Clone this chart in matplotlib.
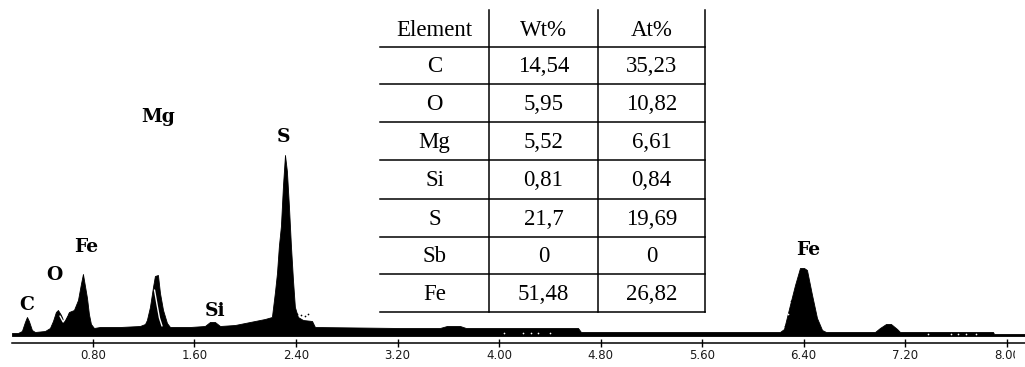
import numpy as np
import matplotlib
matplotlib.use("Agg")
import matplotlib.pyplot as plt
from matplotlib.transforms import Bbox

# EDS spectrum: energy (keV) and counts along the outline
energy_kev = [0.162, 0.209, 0.240, 0.264, 0.280, 0.295, 0.319, 0.343, 0.422, 0.461,
              0.485, 0.508, 0.524, 0.548, 0.571, 0.587, 0.611, 0.650, 0.682, 0.705,
              0.721, 0.737, 0.753, 0.768, 0.784, 0.808, 0.855, 1.013, 1.170, 1.210,
              1.225, 1.249, 1.273, 1.288, 1.312, 1.328, 1.352, 1.383, 1.407, 1.564,
              1.682, 1.722, 1.761, 1.801, 1.919, 2.037, 2.155, 2.210, 2.234, 2.250,
              2.265, 2.281, 2.297, 2.313, 2.328, 2.344, 2.360, 2.376, 2.391, 2.415,
              2.455, 2.526, 2.549, 3.219, 3.534, 3.589, 3.692, 3.739, 4.622, 4.645,
              6.213, 6.245, 6.292, 6.332, 6.371, 6.403, 6.426, 6.466, 6.505, 6.545,
              6.576, 6.962, 7.001, 7.049, 7.088, 7.136, 7.159, 7.892, 7.900, 8.144]
counts = [3, 3, 5, 14, 19, 15, 6, 4, 5, 8,
          15, 24, 26, 21, 14, 18, 24, 26, 36, 52,
          62, 50, 38, 22, 12, 8, 9, 9, 10, 12,
          16, 29, 49, 60, 61, 43, 26, 13, 9, 9,
          10, 14, 14, 10, 11, 14, 17, 19, 44, 63,
          90, 110, 150, 181, 165, 130, 90, 56, 29, 19,
          16, 15, 9, 8, 8, 10, 10, 8, 8, 4,
          4, 7, 31, 51, 68, 68, 66, 41, 18, 6,
          4, 4, 8, 12, 12, 7, 4, 4, 2, 2]

# Second acquisition, drawn as an outline over the first
ref_energy_kev = [0.540, 0.565, 0.595, 1.285, 1.304, 1.324, 1.344]
ref_counts = [20, 14, 21, 46, 32, 18, 10]
ref_segments = [3, 4]  # points per outline segment

# Scattered points of the second acquisition
dot_energy_kev = [2.409, 2.440, 2.470, 2.495, 4.040, 4.190, 4.250, 4.310, 4.400,
                  6.250, 6.275, 6.300, 7.380, 7.560, 7.620, 7.680, 7.760]
dot_counts = [22, 21, 20, 22, 3, 3, 3, 3, 3,
              10, 22, 35, 2, 2, 2, 2, 2]

# Peak identifications
peak_labels = ["C", "O", "Fe", "Mg", "Si", "S", "Fe"]
peak_label_kev = [0.280, 0.493, 0.745, 1.312, 1.761, 2.305, 6.434]
peak_label_counts = [26, 56, 84, 214, 20, 194, 81]

# Quantification table
table_header = ["Element", "Wt%", "At%"]
table_elements = ["C", "O", "Mg", "Si", "S", "Sb", "Fe"]
table_wt = ["14,54", "5,95", "5,52", "0,81", "21,7", "0", "51,48"]
table_at = ["35,23", "10,82", "6,61", "0,84", "19,69", "0", "26,82"]

tick_kev = [0.80, 1.60, 2.40, 3.20, 4.00, 4.80, 5.60, 6.40, 7.20, 8.00]

W, H = 1025, 367
fig = plt.figure(figsize=(W / 100, H / 100), dpi=100)
fig.patch.set_facecolor("white")

ax = fig.add_axes([12 / W, 24 / H, (W - 12) / W, 343 / H])
ax.set_xlim(0.162, 8.144)
ax.set_ylim(-7, 336)

e = np.array(energy_kev)
c = np.array(counts)
ax.fill_between(e, 0, c, color="black", linewidth=0.6, edgecolor="black")

start = 0
for n in ref_segments:
    ax.plot(ref_energy_kev[start:start + n], ref_counts[start:start + n],
            color="white", linewidth=1.0, solid_capstyle="round")
    start += n

de = np.array(dot_energy_kev)
dc = np.array(dot_counts)
inside = dc < np.interp(de, e, c)
ax.scatter(de[inside], dc[inside], s=1.5, color="white", linewidths=0, zorder=3)
ax.scatter(de[~inside], dc[~inside], s=1.5, color="black", linewidths=0, zorder=3)

for lab, x, y in zip(peak_labels, peak_label_kev, peak_label_counts):
    ax.text(x, y, lab, ha="center", va="baseline", fontsize=13.5,
            fontweight="bold", family="DejaVu Serif", color="black")

for side in ("top", "left", "right"):
    ax.spines[side].set_visible(False)
ax.spines["bottom"].set_linewidth(1.1)
ax.spines["bottom"].set_position(("data", -7))
ax.set_yticks([])
ax.set_xticks(tick_kev)
ax.set_xticklabels([f"{t:.2f}" for t in tick_kev], fontsize=8.5,
                   family="DejaVu Sans", color="#1a1a1a")
ax.tick_params(axis="x", direction="inout", length=6, width=1.0, pad=1.5)
ax.minorticks_off()
ax.patch.set_alpha(0)

# the scale's labels stop a little short of the right edge
label_clip = Bbox.from_extents(0, 0, 1015, H)
for lbl in ax.get_xticklabels():
    lbl.set_clip_box(label_clip)
    lbl.set_clip_on(True)

# Table overlay in pixel coordinates
tab = fig.add_axes([0, 0, 1, 1])
tab.set_xlim(0, W)
tab.set_ylim(H, 0)
tab.axis("off")
tab.patch.set_alpha(0)

x_left, x_right = 380, 705
col_edges = [489, 598, 705]
col_centers = [434.5, 543.5, 651.5]
row_top = 10
row_lines = [47, 84, 122, 160, 199, 237, 274, 312]
lw = 1.1
for y in row_lines:
    tab.plot([x_left, x_right], [y, y], color="black", linewidth=lw)
for x in col_edges:
    tab.plot([x, x], [row_top, row_lines[-1]], color="black", linewidth=lw)

row_bounds = [row_top] + row_lines
rows = [table_header] + [list(r) for r in zip(table_elements, table_wt, table_at)]
for i, row in enumerate(rows):
    yc = (row_bounds[i] + row_bounds[i + 1]) / 2 + 1.5
    for xc, txt in zip(col_centers, row):
        tab.text(xc, yc, txt, ha="center", va="center", fontsize=16.5,
                 family="Liberation Serif", color="black")

fig.savefig("out.png", dpi=100, facecolor="white")
